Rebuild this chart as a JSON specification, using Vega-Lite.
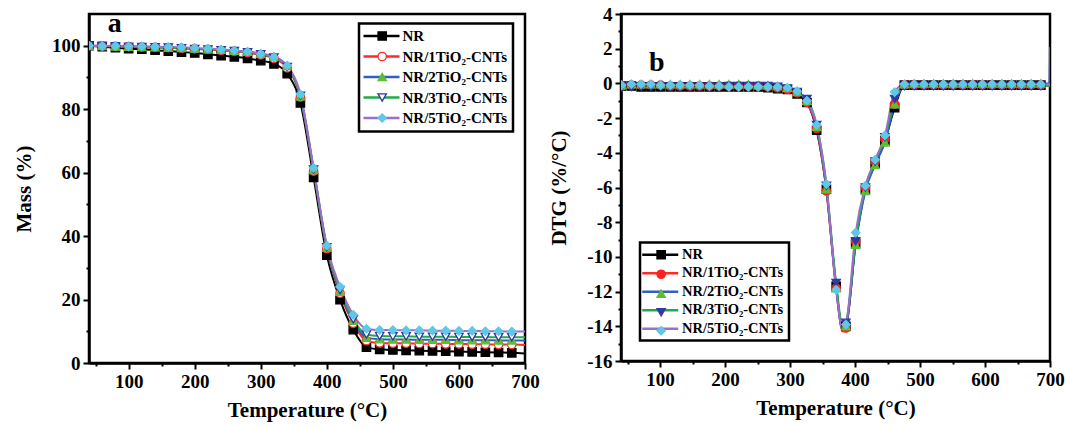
{
  "$schema": "https://vega.github.io/schema/vega-lite/v6.json",
  "padding": {"left": 12, "top": 3, "right": 2, "bottom": 5},
  "spacing": 6,
  "config": {
    "font": "Liberation Serif",
    "view": {"stroke": "black", "strokeWidth": 2.5},
    "axis": {"domainColor": "black", "domainWidth": 2.5, "tickColor": "black", "tickWidth": 2, "tickSize": 6, "labelFont": "Liberation Serif", "labelFontWeight": "bold", "labelFontSize": 19, "labelColor": "black", "titleFont": "Liberation Serif", "titleFontWeight": "bold", "titleFontSize": 21, "titleColor": "black", "grid": false, "labelFlush": false, "labelPadding": 3},
    "legend": {"labelFont": "Liberation Serif", "labelFontWeight": "bold", "labelColor": "black", "strokeWidth": 2.5}
  },
  "resolve": {"scale": {"stroke": "independent", "fill": "independent", "shape": "independent"}},
  "datasets": {
    "tga": [
      {"T":40,"NR":100,"NR/1TiO₂-CNTs":100,"NR/2TiO₂-CNTs":100,"NR/3TiO₂-CNTs":100,"NR/5TiO₂-CNTs":100},
      {"T":60,"NR":99.7,"NR/1TiO₂-CNTs":99.9,"NR/2TiO₂-CNTs":99.9,"NR/3TiO₂-CNTs":99.9,"NR/5TiO₂-CNTs":99.9},
      {"T":80,"NR":99.4,"NR/1TiO₂-CNTs":99.8,"NR/2TiO₂-CNTs":99.8,"NR/3TiO₂-CNTs":99.8,"NR/5TiO₂-CNTs":99.9},
      {"T":100,"NR":99.1,"NR/1TiO₂-CNTs":99.7,"NR/2TiO₂-CNTs":99.7,"NR/3TiO₂-CNTs":99.7,"NR/5TiO₂-CNTs":99.8},
      {"T":120,"NR":98.9,"NR/1TiO₂-CNTs":99.6,"NR/2TiO₂-CNTs":99.6,"NR/3TiO₂-CNTs":99.6,"NR/5TiO₂-CNTs":99.8},
      {"T":140,"NR":98.6,"NR/1TiO₂-CNTs":99.5,"NR/2TiO₂-CNTs":99.5,"NR/3TiO₂-CNTs":99.5,"NR/5TiO₂-CNTs":99.7},
      {"T":160,"NR":98.3,"NR/1TiO₂-CNTs":99.4,"NR/2TiO₂-CNTs":99.4,"NR/3TiO₂-CNTs":99.4,"NR/5TiO₂-CNTs":99.6},
      {"T":180,"NR":98.0,"NR/1TiO₂-CNTs":99.2,"NR/2TiO₂-CNTs":99.3,"NR/3TiO₂-CNTs":99.2,"NR/5TiO₂-CNTs":99.5},
      {"T":200,"NR":97.7,"NR/1TiO₂-CNTs":99.0,"NR/2TiO₂-CNTs":99.1,"NR/3TiO₂-CNTs":99.0,"NR/5TiO₂-CNTs":99.3},
      {"T":220,"NR":97.3,"NR/1TiO₂-CNTs":98.8,"NR/2TiO₂-CNTs":98.9,"NR/3TiO₂-CNTs":98.8,"NR/5TiO₂-CNTs":99.1},
      {"T":240,"NR":96.9,"NR/1TiO₂-CNTs":98.5,"NR/2TiO₂-CNTs":98.7,"NR/3TiO₂-CNTs":98.6,"NR/5TiO₂-CNTs":98.8},
      {"T":260,"NR":96.5,"NR/1TiO₂-CNTs":98.2,"NR/2TiO₂-CNTs":98.4,"NR/3TiO₂-CNTs":98.3,"NR/5TiO₂-CNTs":98.5},
      {"T":280,"NR":96.0,"NR/1TiO₂-CNTs":97.8,"NR/2TiO₂-CNTs":98.1,"NR/3TiO₂-CNTs":97.9,"NR/5TiO₂-CNTs":98.1},
      {"T":300,"NR":95.3,"NR/1TiO₂-CNTs":97.1,"NR/2TiO₂-CNTs":97.5,"NR/3TiO₂-CNTs":97.3,"NR/5TiO₂-CNTs":97.4},
      {"T":320,"NR":94.3,"NR/1TiO₂-CNTs":96.0,"NR/2TiO₂-CNTs":96.6,"NR/3TiO₂-CNTs":96.3,"NR/5TiO₂-CNTs":96.4},
      {"T":340,"NR":91.2,"NR/1TiO₂-CNTs":93.0,"NR/2TiO₂-CNTs":93.6,"NR/3TiO₂-CNTs":93.3,"NR/5TiO₂-CNTs":93.7},
      {"T":360,"NR":82.0,"NR/1TiO₂-CNTs":83.8,"NR/2TiO₂-CNTs":84.0,"NR/3TiO₂-CNTs":84.2,"NR/5TiO₂-CNTs":84.7},
      {"T":380,"NR":58.5,"NR/1TiO₂-CNTs":60.5,"NR/2TiO₂-CNTs":60.8,"NR/3TiO₂-CNTs":61.0,"NR/5TiO₂-CNTs":61.5},
      {"T":400,"NR":34.0,"NR/1TiO₂-CNTs":36.0,"NR/2TiO₂-CNTs":36.3,"NR/3TiO₂-CNTs":36.5,"NR/5TiO₂-CNTs":37.0},
      {"T":420,"NR":20.0,"NR/1TiO₂-CNTs":22.0,"NR/2TiO₂-CNTs":22.5,"NR/3TiO₂-CNTs":23.0,"NR/5TiO₂-CNTs":24.0},
      {"T":440,"NR":10.5,"NR/1TiO₂-CNTs":12.5,"NR/2TiO₂-CNTs":13.3,"NR/3TiO₂-CNTs":13.8,"NR/5TiO₂-CNTs":15.2},
      {"T":460,"NR":5.0,"NR/1TiO₂-CNTs":7.0,"NR/2TiO₂-CNTs":8.0,"NR/3TiO₂-CNTs":9.0,"NR/5TiO₂-CNTs":10.8},
      {"T":480,"NR":4.3,"NR/1TiO₂-CNTs":6.3,"NR/2TiO₂-CNTs":7.5,"NR/3TiO₂-CNTs":8.5,"NR/5TiO₂-CNTs":10.4},
      {"T":500,"NR":4.1,"NR/1TiO₂-CNTs":6.2,"NR/2TiO₂-CNTs":7.4,"NR/3TiO₂-CNTs":8.4,"NR/5TiO₂-CNTs":10.4},
      {"T":520,"NR":4.0,"NR/1TiO₂-CNTs":6.2,"NR/2TiO₂-CNTs":7.4,"NR/3TiO₂-CNTs":8.4,"NR/5TiO₂-CNTs":10.3},
      {"T":540,"NR":3.9,"NR/1TiO₂-CNTs":6.1,"NR/2TiO₂-CNTs":7.3,"NR/3TiO₂-CNTs":8.3,"NR/5TiO₂-CNTs":10.3},
      {"T":560,"NR":3.8,"NR/1TiO₂-CNTs":6.1,"NR/2TiO₂-CNTs":7.3,"NR/3TiO₂-CNTs":8.3,"NR/5TiO₂-CNTs":10.2},
      {"T":580,"NR":3.7,"NR/1TiO₂-CNTs":6.0,"NR/2TiO₂-CNTs":7.3,"NR/3TiO₂-CNTs":8.3,"NR/5TiO₂-CNTs":10.2},
      {"T":600,"NR":3.6,"NR/1TiO₂-CNTs":6.0,"NR/2TiO₂-CNTs":7.2,"NR/3TiO₂-CNTs":8.2,"NR/5TiO₂-CNTs":10.1},
      {"T":620,"NR":3.5,"NR/1TiO₂-CNTs":5.9,"NR/2TiO₂-CNTs":7.2,"NR/3TiO₂-CNTs":8.2,"NR/5TiO₂-CNTs":10.1},
      {"T":640,"NR":3.4,"NR/1TiO₂-CNTs":5.9,"NR/2TiO₂-CNTs":7.2,"NR/3TiO₂-CNTs":8.2,"NR/5TiO₂-CNTs":10.0},
      {"T":660,"NR":3.3,"NR/1TiO₂-CNTs":5.8,"NR/2TiO₂-CNTs":7.1,"NR/3TiO₂-CNTs":8.1,"NR/5TiO₂-CNTs":10.0},
      {"T":680,"NR":3.2,"NR/1TiO₂-CNTs":5.8,"NR/2TiO₂-CNTs":7.1,"NR/3TiO₂-CNTs":8.1,"NR/5TiO₂-CNTs":9.9},
      {"T":700,"NR":3.0,"NR/1TiO₂-CNTs":5.7,"NR/2TiO₂-CNTs":7.1,"NR/3TiO₂-CNTs":8.1,"NR/5TiO₂-CNTs":9.9}
    ],
    "dtg": [
      {"T":41,"NR":-0.15,"NR/1TiO₂-CNTs":-0.15,"NR/2TiO₂-CNTs":-0.1,"NR/3TiO₂-CNTs":-0.2,"NR/5TiO₂-CNTs":-0.1},
      {"T":56,"NR":-0.15,"NR/1TiO₂-CNTs":-0.1,"NR/2TiO₂-CNTs":-0.05,"NR/3TiO₂-CNTs":-0.2,"NR/5TiO₂-CNTs":-0.05},
      {"T":71,"NR":-0.2,"NR/1TiO₂-CNTs":-0.1,"NR/2TiO₂-CNTs":-0.05,"NR/3TiO₂-CNTs":-0.2,"NR/5TiO₂-CNTs":-0.05},
      {"T":86,"NR":-0.2,"NR/1TiO₂-CNTs":-0.1,"NR/2TiO₂-CNTs":-0.05,"NR/3TiO₂-CNTs":-0.2,"NR/5TiO₂-CNTs":-0.05},
      {"T":101,"NR":-0.2,"NR/1TiO₂-CNTs":-0.1,"NR/2TiO₂-CNTs":-0.05,"NR/3TiO₂-CNTs":-0.2,"NR/5TiO₂-CNTs":-0.1},
      {"T":116,"NR":-0.2,"NR/1TiO₂-CNTs":-0.15,"NR/2TiO₂-CNTs":-0.05,"NR/3TiO₂-CNTs":-0.2,"NR/5TiO₂-CNTs":-0.1},
      {"T":131,"NR":-0.2,"NR/1TiO₂-CNTs":-0.15,"NR/2TiO₂-CNTs":-0.05,"NR/3TiO₂-CNTs":-0.2,"NR/5TiO₂-CNTs":-0.1},
      {"T":146,"NR":-0.2,"NR/1TiO₂-CNTs":-0.15,"NR/2TiO₂-CNTs":-0.05,"NR/3TiO₂-CNTs":-0.2,"NR/5TiO₂-CNTs":-0.1},
      {"T":161,"NR":-0.2,"NR/1TiO₂-CNTs":-0.15,"NR/2TiO₂-CNTs":-0.05,"NR/3TiO₂-CNTs":-0.2,"NR/5TiO₂-CNTs":-0.1},
      {"T":176,"NR":-0.2,"NR/1TiO₂-CNTs":-0.15,"NR/2TiO₂-CNTs":-0.05,"NR/3TiO₂-CNTs":-0.2,"NR/5TiO₂-CNTs":-0.15},
      {"T":191,"NR":-0.2,"NR/1TiO₂-CNTs":-0.15,"NR/2TiO₂-CNTs":-0.05,"NR/3TiO₂-CNTs":-0.2,"NR/5TiO₂-CNTs":-0.15},
      {"T":206,"NR":-0.2,"NR/1TiO₂-CNTs":-0.15,"NR/2TiO₂-CNTs":-0.05,"NR/3TiO₂-CNTs":-0.15,"NR/5TiO₂-CNTs":-0.2},
      {"T":221,"NR":-0.2,"NR/1TiO₂-CNTs":-0.15,"NR/2TiO₂-CNTs":-0.05,"NR/3TiO₂-CNTs":-0.15,"NR/5TiO₂-CNTs":-0.2},
      {"T":236,"NR":-0.2,"NR/1TiO₂-CNTs":-0.15,"NR/2TiO₂-CNTs":-0.05,"NR/3TiO₂-CNTs":-0.15,"NR/5TiO₂-CNTs":-0.2},
      {"T":251,"NR":-0.2,"NR/1TiO₂-CNTs":-0.15,"NR/2TiO₂-CNTs":-0.1,"NR/3TiO₂-CNTs":-0.15,"NR/5TiO₂-CNTs":-0.2},
      {"T":266,"NR":-0.25,"NR/1TiO₂-CNTs":-0.2,"NR/2TiO₂-CNTs":-0.1,"NR/3TiO₂-CNTs":-0.15,"NR/5TiO₂-CNTs":-0.2},
      {"T":281,"NR":-0.3,"NR/1TiO₂-CNTs":-0.25,"NR/2TiO₂-CNTs":-0.15,"NR/3TiO₂-CNTs":-0.2,"NR/5TiO₂-CNTs":-0.2},
      {"T":296,"NR":-0.35,"NR/1TiO₂-CNTs":-0.35,"NR/2TiO₂-CNTs":-0.25,"NR/3TiO₂-CNTs":-0.3,"NR/5TiO₂-CNTs":-0.25},
      {"T":311,"NR":-0.6,"NR/1TiO₂-CNTs":-0.55,"NR/2TiO₂-CNTs":-0.5,"NR/3TiO₂-CNTs":-0.5,"NR/5TiO₂-CNTs":-0.45},
      {"T":326,"NR":-1.1,"NR/1TiO₂-CNTs":-1.1,"NR/2TiO₂-CNTs":-1.0,"NR/3TiO₂-CNTs":-0.9,"NR/5TiO₂-CNTs":-1.0},
      {"T":341,"NR":-2.7,"NR/1TiO₂-CNTs":-2.6,"NR/2TiO₂-CNTs":-2.5,"NR/3TiO₂-CNTs":-2.4,"NR/5TiO₂-CNTs":-2.4},
      {"T":356,"NR":-6.1,"NR/1TiO₂-CNTs":-6.2,"NR/2TiO₂-CNTs":-6.1,"NR/3TiO₂-CNTs":-5.9,"NR/5TiO₂-CNTs":-5.8},
      {"T":371,"NR":-11.7,"NR/1TiO₂-CNTs":-11.8,"NR/2TiO₂-CNTs":-11.8,"NR/3TiO₂-CNTs":-11.5,"NR/5TiO₂-CNTs":-11.9},
      {"T":381,"NR":-14.2,"NR/1TiO₂-CNTs":-14.3,"NR/2TiO₂-CNTs":-14.2,"NR/3TiO₂-CNTs":-14.0,"NR/5TiO₂-CNTs":-14.2},
      {"T":386,"NR":-14.0,"NR/1TiO₂-CNTs":-14.1,"NR/2TiO₂-CNTs":-14.0,"NR/3TiO₂-CNTs":-13.8,"NR/5TiO₂-CNTs":-13.9},
      {"T":401,"NR":-9.2,"NR/1TiO₂-CNTs":-9.1,"NR/2TiO₂-CNTs":-9.3,"NR/3TiO₂-CNTs":-9.1,"NR/5TiO₂-CNTs":-8.6},
      {"T":416,"NR":-6.1,"NR/1TiO₂-CNTs":-6.0,"NR/2TiO₂-CNTs":-6.2,"NR/3TiO₂-CNTs":-6.0,"NR/5TiO₂-CNTs":-5.9},
      {"T":431,"NR":-4.6,"NR/1TiO₂-CNTs":-4.5,"NR/2TiO₂-CNTs":-4.7,"NR/3TiO₂-CNTs":-4.5,"NR/5TiO₂-CNTs":-4.4},
      {"T":446,"NR":-3.3,"NR/1TiO₂-CNTs":-3.2,"NR/2TiO₂-CNTs":-3.4,"NR/3TiO₂-CNTs":-3.1,"NR/5TiO₂-CNTs":-3.0},
      {"T":461,"NR":-1.4,"NR/1TiO₂-CNTs":-1.2,"NR/2TiO₂-CNTs":-1.2,"NR/3TiO₂-CNTs":-0.9,"NR/5TiO₂-CNTs":-0.5},
      {"T":476,"NR":-0.1,"NR/1TiO₂-CNTs":-0.1,"NR/2TiO₂-CNTs":-0.05,"NR/3TiO₂-CNTs":-0.15,"NR/5TiO₂-CNTs":-0.05},
      {"T":491,"NR":-0.1,"NR/1TiO₂-CNTs":-0.1,"NR/2TiO₂-CNTs":0,"NR/3TiO₂-CNTs":-0.15,"NR/5TiO₂-CNTs":-0.05},
      {"T":506,"NR":-0.1,"NR/1TiO₂-CNTs":-0.1,"NR/2TiO₂-CNTs":0,"NR/3TiO₂-CNTs":-0.15,"NR/5TiO₂-CNTs":-0.05},
      {"T":521,"NR":-0.1,"NR/1TiO₂-CNTs":-0.1,"NR/2TiO₂-CNTs":0,"NR/3TiO₂-CNTs":-0.15,"NR/5TiO₂-CNTs":-0.05},
      {"T":536,"NR":-0.1,"NR/1TiO₂-CNTs":-0.1,"NR/2TiO₂-CNTs":0,"NR/3TiO₂-CNTs":-0.15,"NR/5TiO₂-CNTs":-0.05},
      {"T":551,"NR":-0.1,"NR/1TiO₂-CNTs":-0.1,"NR/2TiO₂-CNTs":0,"NR/3TiO₂-CNTs":-0.15,"NR/5TiO₂-CNTs":-0.05},
      {"T":566,"NR":-0.1,"NR/1TiO₂-CNTs":-0.1,"NR/2TiO₂-CNTs":0,"NR/3TiO₂-CNTs":-0.15,"NR/5TiO₂-CNTs":-0.05},
      {"T":581,"NR":-0.1,"NR/1TiO₂-CNTs":-0.1,"NR/2TiO₂-CNTs":0,"NR/3TiO₂-CNTs":-0.15,"NR/5TiO₂-CNTs":-0.05},
      {"T":596,"NR":-0.1,"NR/1TiO₂-CNTs":-0.1,"NR/2TiO₂-CNTs":0,"NR/3TiO₂-CNTs":-0.15,"NR/5TiO₂-CNTs":-0.05},
      {"T":611,"NR":-0.1,"NR/1TiO₂-CNTs":-0.1,"NR/2TiO₂-CNTs":0,"NR/3TiO₂-CNTs":-0.15,"NR/5TiO₂-CNTs":-0.05},
      {"T":626,"NR":-0.1,"NR/1TiO₂-CNTs":-0.1,"NR/2TiO₂-CNTs":0,"NR/3TiO₂-CNTs":-0.15,"NR/5TiO₂-CNTs":-0.05},
      {"T":641,"NR":-0.1,"NR/1TiO₂-CNTs":-0.1,"NR/2TiO₂-CNTs":0,"NR/3TiO₂-CNTs":-0.15,"NR/5TiO₂-CNTs":-0.05},
      {"T":656,"NR":-0.1,"NR/1TiO₂-CNTs":-0.1,"NR/2TiO₂-CNTs":0,"NR/3TiO₂-CNTs":-0.15,"NR/5TiO₂-CNTs":-0.05},
      {"T":671,"NR":-0.1,"NR/1TiO₂-CNTs":-0.1,"NR/2TiO₂-CNTs":0,"NR/3TiO₂-CNTs":-0.15,"NR/5TiO₂-CNTs":-0.05},
      {"T":686,"NR":-0.1,"NR/1TiO₂-CNTs":-0.1,"NR/2TiO₂-CNTs":0,"NR/3TiO₂-CNTs":-0.15,"NR/5TiO₂-CNTs":-0.05},
      {"T":699,"NR":-0.1,"NR/1TiO₂-CNTs":-0.1,"NR/2TiO₂-CNTs":0,"NR/3TiO₂-CNTs":-0.15,"NR/5TiO₂-CNTs":-0.05},
      {"T":700,"NR":-0.1,"NR/1TiO₂-CNTs":-0.1,"NR/2TiO₂-CNTs":2.1,"NR/3TiO₂-CNTs":-0.15,"NR/5TiO₂-CNTs":0}
    ]
  },
  "hconcat": [
    {
      "width": 436,
      "height": 349,
      "resolve": {"scale": {"stroke": "independent", "fill": "independent", "shape": "independent"}, "axis": {"x": "independent", "y": "independent"}},
      "layer": [
        {
          "data": {"name": "tga"},
          "transform": [{"fold": ["NR", "NR/1TiO₂-CNTs", "NR/2TiO₂-CNTs", "NR/3TiO₂-CNTs", "NR/5TiO₂-CNTs"], "as": ["series", "v"]}],
          "mark": {"type": "line", "interpolate": "monotone", "strokeWidth": 2, "clip": true},
          "encoding": {
            "x": {"field": "T", "type": "quantitative", "scale": {"domain": [40, 700], "nice": false, "zero": false},
              "axis": {"title": "Temperature (°C)", "orient": "bottom", "values": [100,200,300,400,500,600,700], "titlePadding": 8}},
            "y": {"field": "v", "type": "quantitative", "scale": {"domain": [0, 110], "nice": false},
              "axis": {"title": "Mass (%)", "orient": "left", "values": [0,20,40,60,80,100], "titlePadding": 17}},
            "stroke": {"field": "series", "type": "nominal",
              "scale": {"domain": ["NR", "NR/1TiO₂-CNTs", "NR/2TiO₂-CNTs", "NR/3TiO₂-CNTs", "NR/5TiO₂-CNTs"], "range": ["#000000", "#ff2a2a", "#2f5fc4", "#1faa4b", "#9b6fc6"]},
              "legend": {"title": null, "orient": "none", "legendX": 270, "legendY": 9.5, "symbolType": "M-4,0H4", "symbolSize": 81, "symbolStrokeWidth": 2.5, "labelFontSize": 15, "rowPadding": 4.5, "padding": 5, "strokeColor": "black", "symbolOffset": 10, "labelOffset": 13.5}}
          }
        },
        {
          "data": {"name": "tga"},
          "transform": [{"filter": "datum.T < 700"}, {"fold": ["NR", "NR/1TiO₂-CNTs", "NR/2TiO₂-CNTs", "NR/3TiO₂-CNTs", "NR/5TiO₂-CNTs"], "as": ["series", "v"]}],
          "mark": {"type": "point", "filled": true, "opacity": 1, "size": 70, "strokeWidth": 1.3, "clip": true},
          "encoding": {
            "x": {"field": "T", "type": "quantitative",
              "axis": {"title": null, "orient": "bottom", "values": [50,150,250,350,450,550,650], "labels": false, "domain": false, "tickSize": 3}},
            "y": {"field": "v", "type": "quantitative",
              "axis": {"title": null, "orient": "left", "values": [10,30,50,70,90], "labels": false, "domain": false, "tickSize": 3}},
            "shape": {"field": "series", "type": "nominal",
              "scale": {"domain": ["NR", "NR/1TiO₂-CNTs", "NR/2TiO₂-CNTs", "NR/3TiO₂-CNTs", "NR/5TiO₂-CNTs"], "range": ["square", "circle", "triangle-up", "triangle-down", "diamond"]},
              "legend": {"title": null, "orient": "none", "legendX": 270, "legendY": 9.5, "symbolSize": 70, "symbolStrokeWidth": 1.3, "labelFontSize": 15, "rowPadding": 4.5, "padding": 5, "strokeColor": null, "labelColor": "transparent", "symbolOffset": 10.7, "labelOffset": 13.5}},
            "fill": {"field": "series", "type": "nominal",
              "scale": {"domain": ["NR", "NR/1TiO₂-CNTs", "NR/2TiO₂-CNTs", "NR/3TiO₂-CNTs", "NR/5TiO₂-CNTs"], "range": ["#000000", "#ffffff", "#5bbf30", "#ffffff", "#5fc8e6"]},
              "legend": {"title": null, "orient": "none", "legendX": 270, "legendY": 9.5, "symbolSize": 70, "symbolStrokeWidth": 1.3, "labelFontSize": 15, "rowPadding": 4.5, "padding": 5, "strokeColor": null, "labelColor": "transparent", "symbolOffset": 10.7, "labelOffset": 13.5}},
            "stroke": {"field": "series", "type": "nominal",
              "scale": {"domain": ["NR", "NR/1TiO₂-CNTs", "NR/2TiO₂-CNTs", "NR/3TiO₂-CNTs", "NR/5TiO₂-CNTs"], "range": ["#000000", "#ff2a2a", "#5bbf30", "#3333a6", "#5fc8e6"]},
              "legend": {"title": null, "orient": "none", "legendX": 270, "legendY": 9.5, "symbolSize": 70, "symbolStrokeWidth": 1.3, "labelFontSize": 15, "rowPadding": 4.5, "padding": 5, "strokeColor": null, "labelColor": "transparent", "symbolOffset": 10.7, "labelOffset": 13.5}}
          }
        },
        {
          "data": {"values": [{"T": 79, "v": 104.2, "label": "a"}]},
          "mark": {"type": "text", "font": "Liberation Serif", "fontWeight": "bold", "fontSize": 28, "align": "center", "baseline": "alphabetic", "color": "black"},
          "encoding": {
            "x": {"field": "T", "type": "quantitative", "axis": null},
            "y": {"field": "v", "type": "quantitative", "axis": null},
            "text": {"field": "label"}
          }
        }
      ]
    },
    {
      "width": 429,
      "height": 347,
      "resolve": {"scale": {"stroke": "independent", "fill": "independent", "shape": "independent"}, "axis": {"x": "independent", "y": "independent"}},
      "layer": [
        {
          "data": {"name": "dtg"},
          "transform": [{"fold": ["NR", "NR/1TiO₂-CNTs", "NR/2TiO₂-CNTs", "NR/3TiO₂-CNTs", "NR/5TiO₂-CNTs"], "as": ["series", "v"]}],
          "mark": {"type": "line", "interpolate": "monotone", "strokeWidth": 2, "clip": true},
          "encoding": {
            "x": {"field": "T", "type": "quantitative", "scale": {"domain": [40, 700], "nice": false, "zero": false},
              "axis": {"title": "Temperature (°C)", "orient": "bottom", "values": [100,200,300,400,500,600,700], "titlePadding": 8}},
            "y": {"field": "v", "type": "quantitative", "scale": {"domain": [-16, 4], "nice": false, "zero": false},
              "axis": {"title": "DTG (%/°C)", "orient": "left", "values": [-16,-14,-12,-10,-8,-6,-4,-2,0,2,4], "labelExpr": "toString(datum.value)", "titlePadding": 17}},
            "stroke": {"field": "series", "type": "nominal",
              "scale": {"domain": ["NR", "NR/1TiO₂-CNTs", "NR/2TiO₂-CNTs", "NR/3TiO₂-CNTs", "NR/5TiO₂-CNTs"], "range": ["#000000", "#ff2a2a", "#2f5fc4", "#1faa4b", "#9b6fc6"]},
              "legend": {"title": null, "orient": "none", "legendX": 19, "legendY": 228.5, "symbolType": "M-4,0H4", "symbolSize": 81, "symbolStrokeWidth": 2.5, "labelFontSize": 14.5, "rowPadding": 3.5, "padding": 5, "strokeColor": "black", "symbolOffset": 8, "labelOffset": 14.5}}
          }
        },
        {
          "data": {"name": "dtg"},
          "transform": [{"filter": "datum.T !== 381 && datum.T < 690"}, {"fold": ["NR", "NR/1TiO₂-CNTs", "NR/2TiO₂-CNTs", "NR/3TiO₂-CNTs", "NR/5TiO₂-CNTs"], "as": ["series", "v"]}],
          "mark": {"type": "point", "filled": true, "opacity": 1, "size": 70, "strokeWidth": 1.3, "clip": true},
          "encoding": {
            "x": {"field": "T", "type": "quantitative",
              "axis": {"title": null, "orient": "bottom", "values": [50,150,250,350,450,550,650], "labels": false, "domain": false, "tickSize": 3}},
            "y": {"field": "v", "type": "quantitative",
              "axis": {"title": null, "orient": "left", "values": [-15,-13,-11,-9,-7,-5,-3,-1,1,3], "labels": false, "domain": false, "tickSize": 3}},
            "shape": {"field": "series", "type": "nominal",
              "scale": {"domain": ["NR", "NR/1TiO₂-CNTs", "NR/2TiO₂-CNTs", "NR/3TiO₂-CNTs", "NR/5TiO₂-CNTs"], "range": ["square", "circle", "triangle-up", "triangle-down", "diamond"]},
              "legend": {"title": null, "orient": "none", "legendX": 19, "legendY": 228.5, "symbolSize": 70, "symbolStrokeWidth": 1.3, "labelFontSize": 14.5, "rowPadding": 3.5, "padding": 5, "strokeColor": null, "labelColor": "transparent", "symbolOffset": 8.9, "labelOffset": 14.5}},
            "fill": {"field": "series", "type": "nominal",
              "scale": {"domain": ["NR", "NR/1TiO₂-CNTs", "NR/2TiO₂-CNTs", "NR/3TiO₂-CNTs", "NR/5TiO₂-CNTs"], "range": ["#000000", "#ff2020", "#5bbf30", "#2d3aa8", "#5fc8e6"]},
              "legend": {"title": null, "orient": "none", "legendX": 19, "legendY": 228.5, "symbolSize": 70, "symbolStrokeWidth": 1.3, "labelFontSize": 14.5, "rowPadding": 3.5, "padding": 5, "strokeColor": null, "labelColor": "transparent", "symbolOffset": 8.9, "labelOffset": 14.5}},
            "stroke": {"field": "series", "type": "nominal",
              "scale": {"domain": ["NR", "NR/1TiO₂-CNTs", "NR/2TiO₂-CNTs", "NR/3TiO₂-CNTs", "NR/5TiO₂-CNTs"], "range": ["#000000", "#ff2020", "#5bbf30", "#2d3aa8", "#5fc8e6"]},
              "legend": {"title": null, "orient": "none", "legendX": 19, "legendY": 228.5, "symbolSize": 70, "symbolStrokeWidth": 1.3, "labelFontSize": 14.5, "rowPadding": 3.5, "padding": 5, "strokeColor": null, "labelColor": "transparent", "symbolOffset": 8.9, "labelOffset": 14.5}}
          }
        },
        {
          "data": {"values": [{"T": 95, "v": 0.74, "label": "b"}]},
          "mark": {"type": "text", "font": "Liberation Serif", "fontWeight": "bold", "fontSize": 28, "align": "center", "baseline": "alphabetic", "color": "black"},
          "encoding": {
            "x": {"field": "T", "type": "quantitative", "axis": null},
            "y": {"field": "v", "type": "quantitative", "axis": null},
            "text": {"field": "label"}
          }
        }
      ]
    }
  ]
}
